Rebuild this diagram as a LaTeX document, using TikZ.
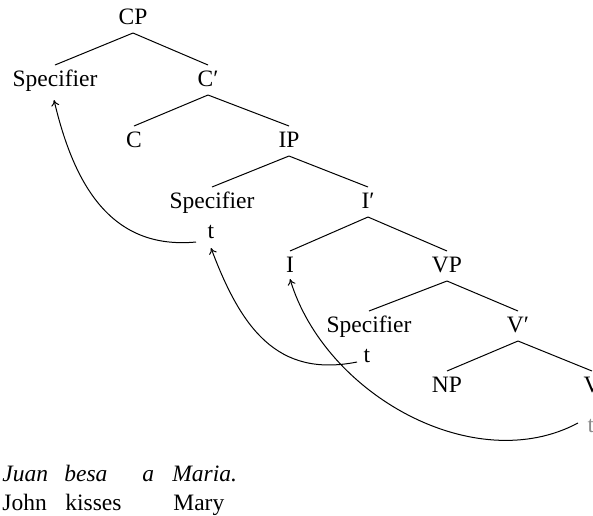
\documentclass[tikz,border=0pt]{standalone}
\usepackage{fontspec}
\setmainfont{Liberation Serif}
\usetikzlibrary{arrows.meta}
\begin{document}
\begin{tikzpicture}[x=0.5pt,y=-0.5pt,
  lbl/.style={font=\fontsize{11.75}{14}\selectfont, inner sep=0pt, anchor=base},
  gl/.style={font=\fontsize{11.75}{14}\selectfont, inner sep=0pt, anchor=base west},
  branch/.style={line width=0.5pt},
  move/.style={line width=0.5pt, -{To[length=3pt,width=4pt]}},
  trace/.style={lbl, text=black!45}]
\useasboundingbox (0,0) rectangle (593,515);
% tree nodes
\node[lbl] (cp) at (133,24) {CP};
\node[lbl] (spA) at (55,86) {Specifier};
\node[lbl] (cbar) at (208,86) {C′};
\node[lbl] (c) at (134,147) {C};
\node[lbl] (ip) at (289,147) {IP};
\node[lbl] (spB) at (212,208) {Specifier};
\node[lbl] (tB) at (211,238) {t};
\node[lbl] (ibar) at (368,208) {I′};
\node[lbl] (i) at (290,272) {I};
\node[lbl] (vp) at (447,272) {VP};
\node[lbl] (spC) at (369,332) {Specifier};
\node[lbl] (tC) at (367,362) {t};
\node[lbl] (vbar) at (518,332) {V′};
\node[lbl] (np) at (447,392) {NP};
\node[lbl] (v) at (592,392) {V};
\node[trace] (tV) at (591,432) {t};
% branches
\foreach \p/\c in {cp/spA, cp/cbar, cbar/c, cbar/ip, ip/spB, ip/ibar, ibar/i, ibar/vp, vp/spC, vp/vbar, vbar/np, vbar/v}
  \draw[branch] ([shift={(0,9)}]\p.base) -- ([shift={(0,-21)}]\c.base);
% movement arrows
\draw[move] ([shift={(-15,4)}]tB.base) .. controls +(-85,8) and +(20,85) .. ([shift={(-1,14)}]spA.base);
\draw[move] ([shift={(-10,0)}]tC.base) .. controls +(-80,16) and +(30,80) .. ([shift={(0,10)}]tB.base);
\draw[move] ([shift={(-13,-9)}]tV.base) .. controls +(-103,55) and +(35,116) .. ([shift={(0,7)}]i.base);
% gloss
\node[gl] (g1) at (2,481) {\itshape Juan};
\node[gl] (g2) at (64,481) {\itshape besa};
\node[gl] (g3) at (142,481) {\itshape a};
\node[gl] (g4) at (172,481) {\itshape Maria.};
\node[gl] (e1) at (2,510) {John};
\node[gl] (e2) at (65,510) {kisses};
\node[gl] (e4) at (173,510) {Mary};
\end{tikzpicture}
\end{document}
